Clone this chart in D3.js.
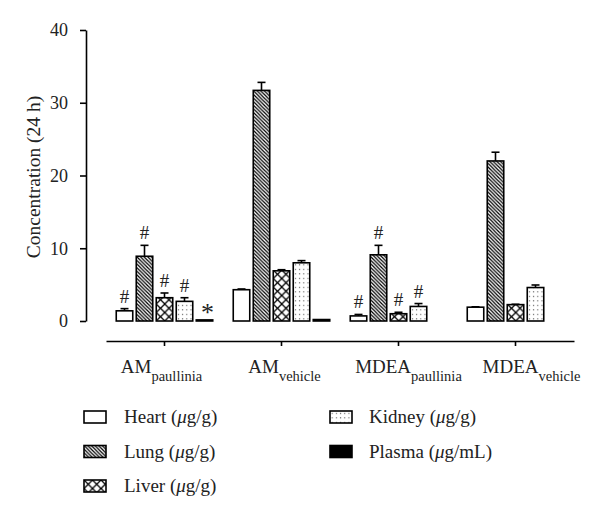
<!DOCTYPE html>
<html><head><meta charset="utf-8">
<script src="https://cdn.jsdelivr.net/npm/d3@7"></script>
<style>
html,body{margin:0;padding:0;background:#fff;}
svg{display:block;font-family:"Liberation Serif","Times New Roman",serif;}
</style></head>
<body>
<svg id="chart" width="600" height="518"></svg>
<script>
// ---- data ----
const groups = ["AMpaullinia","AMvehicle","MDEApaullinia","MDEAvehicle"];
const groupMain = ["AM","AM","MDEA","MDEA"];
const groupSub = ["paullinia","vehicle","paullinia","vehicle"];
const series = ["Heart","Lung","Liver","Kidney","Plasma"];
const seriesLabels = ["Heart (\u03bcg/g)","Lung (\u03bcg/g)","Liver (\u03bcg/g)","Kidney (\u03bcg/g)","Plasma (\u03bcg/mL)"];
const heart  = [1.4, 4.3, 0.7, 1.9];
const lung   = [8.9, 31.7, 9.1, 22.0];
const liver  = [3.2, 6.9, 1.0, 2.25];
const kidney = [2.7, 8.0, 2.0, 4.6];
const plasma = [0.15, 0.2, null, null];
const heartErr  = [0.3, 0.1, 0.2, 0.05];
const lungErr   = [1.5, 1.1, 1.3, 1.2];
const liverErr  = [0.65, 0.15, 0.2, 0.05];
const kidneyErr = [0.5, 0.3, 0.4, 0.35];
const plasmaErr = [0, 0, 0, 0];
const marks = [["#","#","#","#","*"],["","","","",""],["#","#","#","#",""],["","","","",""]];
const yTicks = [0,10,20,30,40];

const values = [heart,lung,liver,kidney,plasma];
const errs = [heartErr,lungErr,liverErr,kidneyErr,plasmaErr];
const fills = ["#fff","url(#pLung)","url(#pLiver)","url(#pKidney)","#000"];
const labelDx = [-3,3,10,16];

const svg = d3.select("#chart");
const defs = svg.append("defs");

// patterns
const pl = defs.append("pattern").attr("id","pLung").attr("patternUnits","userSpaceOnUse")
  .attr("width",3.6).attr("height",3.6);
pl.append("path").attr("d","M-1,2.6 l2,2 M0,0 l3.6,3.6 M2.6,-1 l2,2")
  .attr("stroke","#000").attr("stroke-width",1.25);
const pv = defs.append("pattern").attr("id","pLiver").attr("patternUnits","userSpaceOnUse")
  .attr("width",8.5).attr("height",8.5);
pv.append("path").attr("d","M0,0L8.5,8.5M8.5,0L0,8.5").attr("stroke","#000").attr("stroke-width",1.3);
const pk = defs.append("pattern").attr("id","pKidney").attr("patternUnits","userSpaceOnUse")
  .attr("width",4.2).attr("height",4.5);
pk.append("rect").attr("x",1.6).attr("y",1.8).attr("width",1.1).attr("height",1.1).attr("fill","#555");

// scales
const y = d3.scaleLinear().domain([0,40]).range([321,30]);
const x0 = d3.scaleBand().domain(groups).range([106,574]);
const x1 = d3.scaleBand().domain(series).range([-48.25,48.25]).paddingInner(0.175);

// y axis
const ya = svg.append("g").attr("transform","translate(86,0)")
  .call(d3.axisLeft(y).tickValues(yTicks).tickSize(6).tickPadding(12).tickSizeOuter(0));
ya.attr("font-family",null);
ya.select(".domain").attr("stroke-width",1.6);
ya.selectAll(".tick line").attr("stroke-width",1.6);
ya.selectAll("text").attr("font-size",18).attr("fill","#222");

svg.append("text").attr("transform","translate(40,177) rotate(-90)")
  .attr("text-anchor","middle").attr("font-size",19.5).attr("fill","#222")
  .text("Concentration (24 h)");

// x axis
const xa = svg.append("g").attr("transform","translate(0,341)")
  .call(d3.axisBottom(x0).tickSize(5).tickSizeOuter(0).tickFormat(""));
xa.attr("font-family",null);
xa.select(".domain").attr("stroke-width",1.6);
xa.selectAll(".tick line").attr("stroke-width",1.6);

groups.forEach((g,i)=>{
  const t = svg.append("text").attr("x",x0(g)+x0.bandwidth()/2+labelDx[i]).attr("y",373)
    .attr("text-anchor","middle").attr("fill","#222");
  t.append("tspan").attr("font-size",19).text(groupMain[i]);
  t.append("tspan").attr("font-size",14.5).attr("dy",7.5).text(groupSub[i]);
});

// bars
const bars = svg.append("g");
groups.forEach((g,gi)=>{
  const cx = x0(g)+x0.bandwidth()/2;
  series.forEach((s,si)=>{
    const v = values[si][gi];
    if(v===null) return;
    const bx = cx + x1(s);
    const bw = x1.bandwidth();
    const top = v + errs[si][gi];
    const gg = bars.append("g").attr("transform",`translate(${bx},${y(0)})`);
    // error bar
    if(errs[si][gi]>0){
      gg.append("line").attr("x1",bw/2).attr("x2",bw/2).attr("y1",y(v)-y(0)).attr("y2",y(top)-y(0))
        .attr("stroke","#000").attr("stroke-width",1.6);
      gg.append("line").attr("x1",bw/2-4).attr("x2",bw/2+4).attr("y1",y(top)-y(0)).attr("y2",y(top)-y(0))
        .attr("stroke","#000").attr("stroke-width",1.6);
    }
    gg.append("rect").attr("x",0).attr("y",y(v)-y(0)).attr("width",bw)
      .attr("height",Math.max(y(0)-y(v),0.5))
      .attr("fill",fills[si]).attr("stroke","#000").attr("stroke-width",1.6);
    const m = marks[gi][si];
    if(m){
      const star = m==="*";
      bars.append("text").attr("x",bx+bw/2+(star?3:0)).attr("y",y(top)-(star?-1:6))
        .attr("text-anchor","middle").attr("font-size",star?26:19).attr("fill","#222").text(m);
    }
  });
});

// legend
const legPos = [[84,417],[84,451.5],[84,486],[330,417],[330,451.5]];
series.forEach((s,i)=>{
  const [lx,ly] = legPos[i];
  const lg = svg.append("g").attr("transform",`translate(${lx},${ly-6})`);
  lg.append("rect").attr("width",22).attr("height",12).attr("fill",fills[i])
    .attr("stroke","#000").attr("stroke-width",1.6);
  const t = svg.append("text").attr("x",lx+(i<3?40:39)).attr("y",ly+6).attr("font-size",19).attr("fill","#222");
  const lab = seriesLabels[i];
  const k = lab.indexOf("\u03bc");
  t.append("tspan").text(lab.slice(0,k));
  t.append("tspan").attr("font-style","italic").text("\u03bc");
  t.append("tspan").text(lab.slice(k+1));
});
</script>
</body></html>
